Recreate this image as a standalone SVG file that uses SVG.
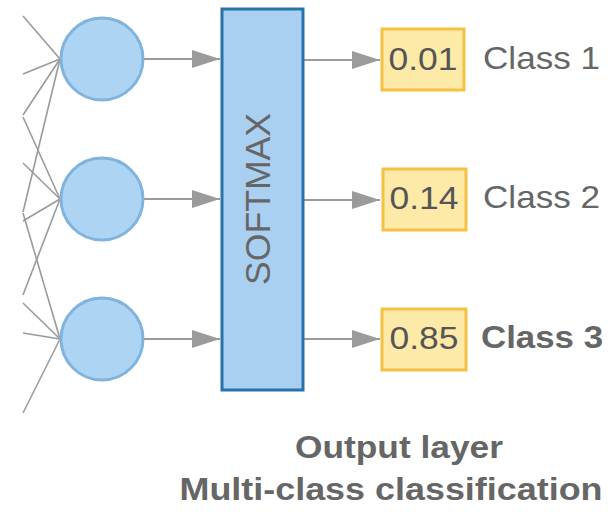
<svg xmlns="http://www.w3.org/2000/svg" width="610" height="512" viewBox="0 0 610 512">
  <defs>
    <marker id="arr" markerUnits="userSpaceOnUse" markerWidth="30" markerHeight="20" refX="28" refY="9" orient="auto">
      <path d="M0,0 L28,9 L0,18 z" fill="#9b9b9b"/>
    </marker>
    <style>
      .in { stroke: #9a9a9a; stroke-width: 1.6; fill: none; }
      .arrow { stroke: #9a9a9a; stroke-width: 2; fill: none; marker-end: url(#arr); }
      .neuron { fill: #aed4f3; stroke: #80b4de; stroke-width: 3; }
      .soft { fill: #a9d0f0; stroke: #2672ab; stroke-width: 3; }
      .box { fill: #fde9a8; stroke: #f4c143; stroke-width: 3; }
      .val { font-family: "Liberation Sans", Arial, sans-serif; font-size: 32px; fill: #555555; text-anchor: middle; }
      .cls { font-family: "Liberation Sans", Arial, sans-serif; font-size: 32px; fill: #666666; }
      .bold { font-weight: bold; }
      .title { font-family: "Liberation Sans", Arial, sans-serif; font-size: 31px; font-weight: bold; fill: #666666; text-anchor: middle; }
      .smx { font-family: "Liberation Sans", Arial, sans-serif; font-size: 35px; fill: #666666; text-anchor: middle; }
    </style>
  </defs>

  <g id="connectors">
    <!-- input lines -->
    <line class="in" x1="23" y1="16" x2="60" y2="59"/>
    <line class="in" x1="23" y1="74" x2="60" y2="59"/>
    <line class="in" x1="23" y1="115" x2="60" y2="59"/>
    <line class="in" x1="23" y1="212" x2="60" y2="59"/>
    <line class="in" x1="23" y1="117" x2="60" y2="199"/>
    <line class="in" x1="23" y1="163" x2="60" y2="199"/>
    <line class="in" x1="23" y1="221" x2="60" y2="199"/>
    <line class="in" x1="23" y1="295" x2="60" y2="199"/>
    <line class="in" x1="23" y1="213" x2="60" y2="339"/>
    <line class="in" x1="23" y1="303" x2="60" y2="339"/>
    <line class="in" x1="23" y1="333" x2="60" y2="339"/>
    <line class="in" x1="23" y1="413" x2="60" y2="339"/>
    <!-- neuron to softmax -->
    <line class="arrow" x1="143" y1="59" x2="220" y2="59"/>
    <line class="arrow" x1="143" y1="199" x2="220" y2="199"/>
    <line class="arrow" x1="143" y1="339" x2="220" y2="339"/>
    <!-- softmax to outputs -->
    <line class="arrow" x1="303" y1="60" x2="380" y2="60"/>
    <line class="arrow" x1="303" y1="200" x2="380" y2="200"/>
    <line class="arrow" x1="303" y1="339" x2="380" y2="339"/>
  </g>

  <g id="neuron1"><circle class="neuron" cx="102" cy="59" r="41"/></g>
  <g id="neuron2"><circle class="neuron" cx="102" cy="199" r="41"/></g>
  <g id="neuron3"><circle class="neuron" cx="102" cy="339" r="41"/></g>

  <g id="softmax">
    <rect class="soft" x="222" y="9" width="81" height="381"/>
    <text class="smx" transform="translate(270,199) rotate(-90)" x="0" y="0" textLength="172" lengthAdjust="spacingAndGlyphs">SOFTMAX</text>
  </g>

  <g id="out1">
    <rect class="box" x="382" y="29" width="82" height="61"/>
    <text class="val" x="423" y="70" textLength="69" lengthAdjust="spacingAndGlyphs">0.01</text>
    <text class="cls" x="483" y="69" textLength="117" lengthAdjust="spacingAndGlyphs">Class 1</text>
  </g>
  <g id="out2">
    <rect class="box" x="383" y="169" width="83" height="61"/>
    <text class="val" x="424" y="209" textLength="69" lengthAdjust="spacingAndGlyphs">0.14</text>
    <text class="cls" x="483" y="208" textLength="117" lengthAdjust="spacingAndGlyphs">Class 2</text>
  </g>
  <g id="out3">
    <rect class="box" x="382" y="309" width="84" height="61"/>
    <text class="val" x="424" y="349" textLength="69" lengthAdjust="spacingAndGlyphs">0.85</text>
    <text class="cls bold" x="481" y="348" textLength="122" lengthAdjust="spacingAndGlyphs">Class 3</text>
  </g>

  <g id="caption">
    <text class="title" x="399" y="458" textLength="208" lengthAdjust="spacingAndGlyphs">Output layer</text>
    <text class="title" x="391" y="500" textLength="423" lengthAdjust="spacingAndGlyphs">Multi-class classification</text>
  </g>
</svg>
